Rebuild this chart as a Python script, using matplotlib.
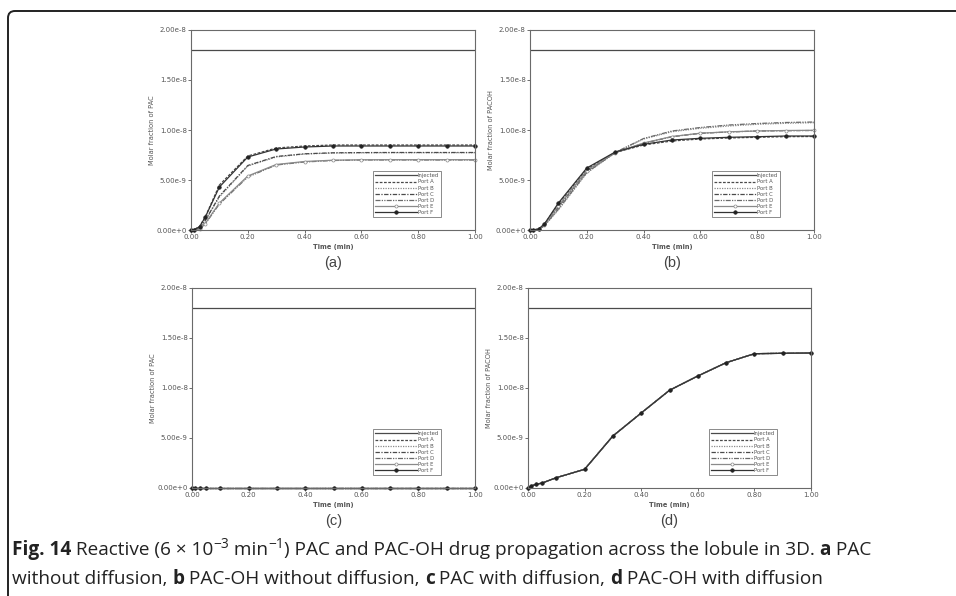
import matplotlib
matplotlib.use("Agg")
import matplotlib.pyplot as plt
from matplotlib.path import Path
from matplotlib.patches import PathPatch
import numpy as np

# ---------------- data ----------------
time_min = [0, 0.01, 0.03, 0.05, 0.1, 0.2, 0.3, 0.4, 0.5, 0.6, 0.7, 0.8, 0.9, 1.0]
injected_level = 1.8e-8

# panel (a) PAC without diffusion (units 1e-9)
a_port_A = [0, 0.02, 0.35, 1.30, 4.50, 7.40, 8.20, 8.40, 8.50, 8.50, 8.50, 8.50, 8.50, 8.50]
a_port_B = [0, 0.01, 0.20, 0.90, 3.30, 6.40, 7.30, 7.60, 7.70, 7.72, 7.73, 7.73, 7.73, 7.73]
a_port_C = [0, 0.01, 0.22, 0.95, 3.40, 6.45, 7.35, 7.62, 7.72, 7.74, 7.75, 7.75, 7.75, 7.75]
a_port_D = [0, 0.00, 0.10, 0.60, 2.60, 5.30, 6.50, 6.80, 6.95, 7.00, 7.00, 7.00, 7.00, 7.00]
a_port_E = [0, 0.00, 0.12, 0.65, 2.70, 5.40, 6.55, 6.85, 6.98, 7.02, 7.03, 7.03, 7.03, 7.03]
a_port_F = [0, 0.02, 0.33, 1.27, 4.30, 7.30, 8.10, 8.30, 8.40, 8.40, 8.40, 8.40, 8.40, 8.40]

# panel (b) PAC-OH without diffusion (units 1e-9)
b_port_A = [0, 0, 0.10, 0.55, 2.60, 6.10, 7.75, 8.50, 8.90, 9.10, 9.20, 9.27, 9.33, 9.35]
b_port_B = [0, 0, 0.05, 0.40, 2.00, 5.70, 7.73, 9.10, 9.83, 10.17, 10.40, 10.57, 10.67, 10.73]
b_port_C = [0, 0, 0.07, 0.45, 2.30, 5.90, 7.73, 8.67, 9.33, 9.67, 9.80, 9.90, 9.93, 9.95]
b_port_D = [0, 0, 0.05, 0.42, 2.10, 5.75, 7.75, 9.15, 9.90, 10.25, 10.50, 10.65, 10.75, 10.80]
b_port_E = [0, 0, 0.07, 0.48, 2.40, 5.95, 7.75, 8.70, 9.35, 9.68, 9.82, 9.90, 9.95, 9.97]
b_port_F = [0, 0, 0.10, 0.57, 2.70, 6.20, 7.80, 8.57, 9.00, 9.17, 9.27, 9.33, 9.40, 9.40]

# panel (c) PAC with diffusion (units 1e-9)
c_port = [0, 0, 0, 0, 0, 0, 0, 0, 0, 0, 0, 0, 0, 0]

# panel (d) PAC-OH with diffusion (units 1e-9)
d_port = [0, 0.20, 0.37, 0.50, 1.03, 1.87, 5.20, 7.50, 9.77, 11.20, 12.53, 13.43, 13.47, 13.50]

series_names = ["Injected", "Port A", "Port B", "Port C", "Port D", "Port E", "Port F"]
xticks = [0.0, 0.2, 0.4, 0.6, 0.8, 1.0]
xticklabels = ["0.00", "0.20", "0.40", "0.60", "0.80", "1.00"]
yticks = [0.0, 5e-9, 1e-8, 1.5e-8, 2e-8]
yticklabels = ["0.00e+0", "5.00e-9", "1.00e-8", "1.50e-8", "2.00e-8"]
panel_labels = ["(a)", "(b)", "(c)", "(d)"]
ylabels = ["Molar fraction of PAC", "Molar fraction of PACOH",
           "Molar fraction of PAC", "Molar fraction of PACOH"]

panels = [
    [a_port_A, a_port_B, a_port_C, a_port_D, a_port_E, a_port_F],
    [b_port_A, b_port_B, b_port_C, b_port_D, b_port_E, b_port_F],
    [c_port] * 6,
    [d_port] * 6,
]

# ---------------- styles ----------------
LC = "#4a4a4a"
styles = [
    dict(ls="-", color=LC),
    dict(ls=(0, (2.2, 1.2)), color=LC),
    dict(ls=(0, (1.0, 1.0)), color="#8a8a8a"),
    dict(ls=(0, (3.5, 1.2, 1.0, 1.2)), color=LC),
    dict(ls=(0, (4.0, 1.0, 1.0, 1.0, 1.0, 1.0)), color="#6a6a6a"),
    dict(ls="-", color="#8a8a8a", marker="o", ms=2.2, mfc="white", mec="#8a8a8a", mew=0.5),
    dict(ls="-", color="#333333", marker="o", ms=2.6, mfc="#222222", mec="#222222", mew=0.4),
]

W, H = 956, 596
fig = plt.figure(figsize=(W / 100, H / 100), dpi=100)
fig.patch.set_facecolor("white")

def fx(px):
    return px / W

def fy(py):
    return 1 - py / H

axes_px = [
    (191, 30, 475, 230),
    (530, 30, 814, 230),
    (192, 288, 475, 488),
    (528, 288, 811, 488),
]

TC = "#555555"
for i, (x0, y0, x1, y1) in enumerate(axes_px):
    ax = fig.add_axes([fx(x0), fy(y1), fx(x1 - x0), (y1 - y0) / H])
    t = np.array(time_min)
    lines = []
    ln, = ax.plot(t, np.full_like(t, injected_level), lw=0.9, **styles[0])
    lines.append(ln)
    for k, vals in enumerate(panels[i]):
        st = dict(styles[k + 1])
        ln, = ax.plot(t, np.array(vals) * 1e-9, lw=0.9, clip_on=False, **st)
        lines.append(ln)
    ax.set_xlim(0, 1.0)
    ax.set_ylim(0, 2e-8)
    ax.set_xticks(xticks)
    ax.set_xticklabels(xticklabels)
    ax.set_yticks(yticks)
    ax.set_yticklabels(yticklabels)
    ax.tick_params(direction="out", length=2, width=0.6, labelsize=5.0,
                   colors=TC, pad=1)
    for s in ax.spines.values():
        s.set_color("#6a6a6a")
        s.set_linewidth(0.8)
    ax.set_xlabel("Time (min)", fontsize=4.8, fontweight="bold", color=TC, labelpad=3)
    ax.set_ylabel(ylabels[i], fontsize=4.8, color=TC, labelpad=0.8)
    ax.text(0.5, -0.165, panel_labels[i], transform=ax.transAxes, ha="center",
            va="center", fontsize=10.5, color="#444444", family="Liberation Sans")
    leg = ax.legend(lines, series_names, loc="lower right",
                    bbox_to_anchor=(0.89, 0.05), fontsize=3.8, handlelength=8,
                    handletextpad=0.1, labelspacing=0.22, borderpad=0.4,
                    frameon=True, fancybox=False, markerfirst=True)
    leg.get_frame().set_edgecolor("#555555")
    leg.get_frame().set_linewidth(0.6)
    for txt in leg.get_texts():
        txt.set_color(TC)

# ---------------- frame (rounded corner) ----------------
r = 7
x_l, y_t = 8, 11
verts = [(fx(x_l), fy(H + 5)), (fx(x_l), fy(y_t + r)),
         (fx(x_l), fy(y_t)), (fx(x_l + r), fy(y_t)),
         (fx(W + 5), fy(y_t))]
codes = [Path.MOVETO, Path.LINETO, Path.CURVE3, Path.CURVE3, Path.LINETO]
frame = PathPatch(Path(verts, codes), transform=fig.transFigure, fill=False,
                  lw=1.4, edgecolor="#222222", clip_on=False)
fig.patches.append(frame)

# ---------------- caption ----------------
CAP_FONT = ["Open Sans", "DejaVu Sans"]
CAP_SIZE = 13.7
fig.canvas.draw()
renderer = fig.canvas.get_renderer()

def write_line(segments, x_px, y_px):
    x = x_px
    for seg in segments:
        text, weight, size, dy = seg
        tt = fig.text(fx(x), fy(y_px - dy), text, fontsize=size, fontweight=weight,
                      family=CAP_FONT, color="#222222", ha="left", va="baseline")
        bb = tt.get_window_extent(renderer=renderer)
        x += bb.width

line1 = [
    ("Fig. 14", "bold", CAP_SIZE, 0),
    (" Reactive (6 \u00d7 10", "normal", CAP_SIZE, 0),
    ("\u22123", "normal", CAP_SIZE * 0.72, 7),
    (" min", "normal", CAP_SIZE, 0),
    ("\u22121", "normal", CAP_SIZE * 0.72, 7),
    (") PAC and PAC-OH drug propagation across the lobule in 3D. ", "normal", CAP_SIZE, 0),
    ("a", "bold", CAP_SIZE, 0),
    (" PAC", "normal", CAP_SIZE, 0),
]
line2 = [
    ("without diffusion, ", "normal", CAP_SIZE, 0),
    ("b", "bold", CAP_SIZE, 0),
    (" PAC-OH without diffusion, ", "normal", CAP_SIZE, 0),
    ("c", "bold", CAP_SIZE, 0),
    (" PAC with diffusion, ", "normal", CAP_SIZE, 0),
    ("d", "bold", CAP_SIZE, 0),
    (" PAC-OH with diffusion", "normal", CAP_SIZE, 0),
]
write_line(line1, 12, 555)
write_line(line2, 12, 584)

fig.savefig("out.png", dpi=100, facecolor="white")
